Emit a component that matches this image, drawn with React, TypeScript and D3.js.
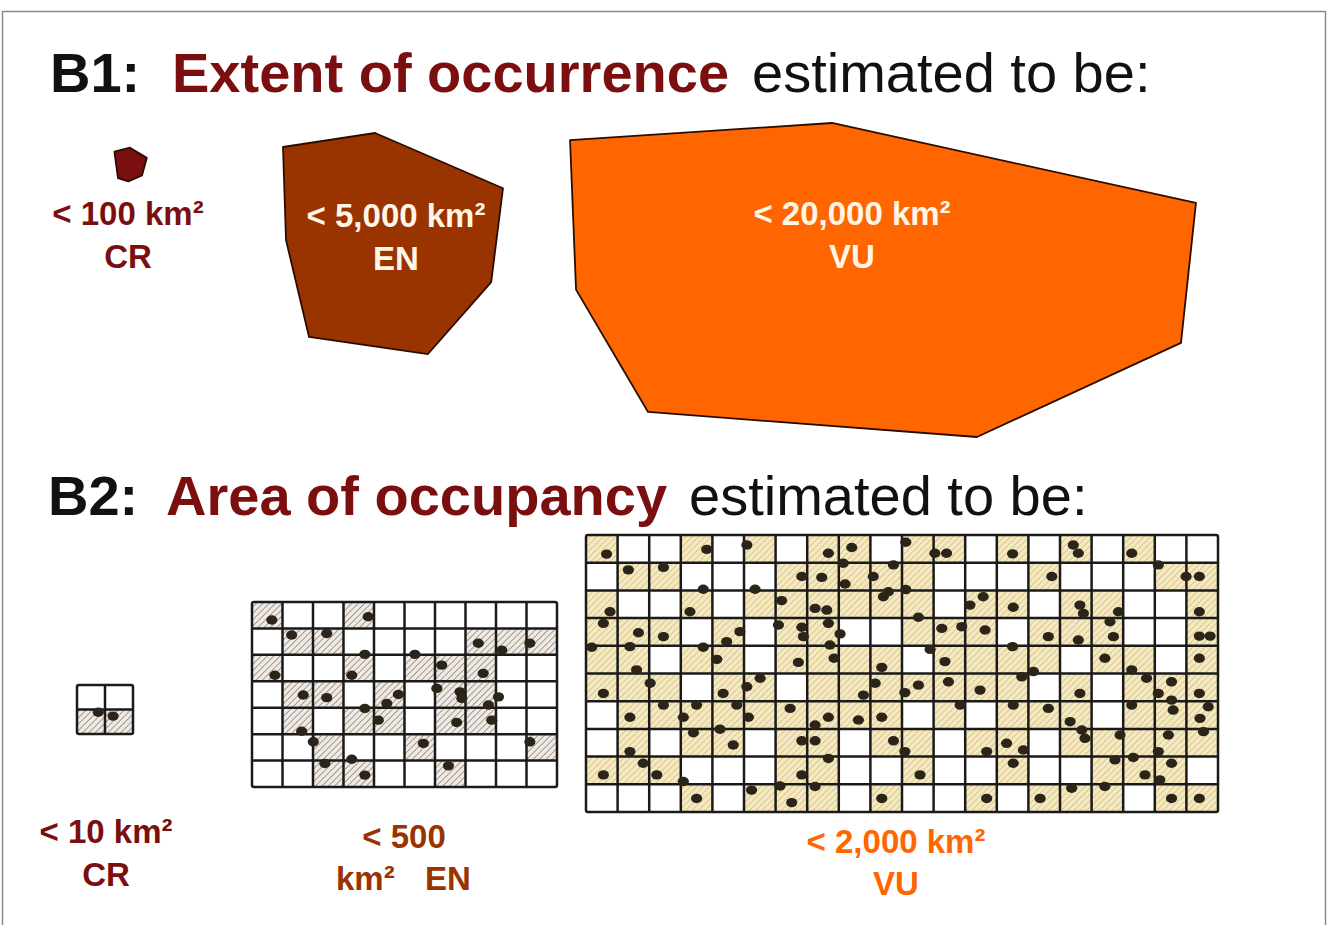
import * as d3 from "d3";

// red list categories and their thresholds
const categories = ["CR", "EN", "VU"];
const eooLabels = ["< 100 km²", "< 5,000 km²", "< 20,000 km²"];
const aooLabels = ["< 10 km²", "< 500", "< 2,000 km²"];

// extent of occurrence outlines, in map units (x 0-100, y 0-30)
const crShape: [number, number][] = [[6.2, 2.97], [7.5, 2.6], [8.9, 3.55], [8.5, 5.2], [7.36, 5.75], [6.5, 5.45]];
const enShape: [number, number][] = [[20.25, 2.53], [27.92, 1.22], [38.58, 6.4], [37.6, 15.2], [32.33, 21.94], [22.42, 20.34], [20.5, 11.25]];
const vuShape: [number, number][] = [[44.17, 1.88], [66.0, 0.28], [96.33, 7.78], [95.08, 20.9], [78.08, 29.72], [50.67, 27.37], [44.67, 15.9]];

// occupied cells (1 = occupied)
const crCells = ["00", "11"];
const enCells = [
  "1001000000",
  "0110000111",
  "1001011100",
  "0110101100",
  "0101101100",
  "0010010001",
  "0011001000",
];
const vuCells = [
  "10010101101101010100",
  "01100011111000100011",
  "10010111111011011001",
  "11101011001110111001",
  "11011011110111101101",
  "11101101111111010111",
  "01111111110101110111",
  "01011011011011011111",
  "11100011001001001110",
  "00010111010010111011",
];

// records, in grid units (column, row)
const crDots: [number, number][] = [[0.76, 1.11], [1.29, 1.27]];
const enDots: [number, number][] = [
  [0.65, 0.68], [3.81, 0.56], [1.3, 1.25], [2.45, 1.19], [7.42, 1.56], [8.19, 1.82], [9.11, 1.56],
  [0.75, 2.77], [3.7, 1.98], [3.27, 2.77], [5.34, 1.98], [6.22, 2.39], [7.58, 2.7],
  [1.68, 3.52], [2.45, 3.62], [4.8, 3.5], [4.42, 3.84], [6.06, 3.27], [6.82, 3.4], [6.88, 3.65], [8.08, 3.59], [7.75, 3.9],
  [1.63, 4.89], [3.7, 4.03], [4.14, 4.47], [6.71, 4.56], [7.86, 4.47],
  [2.01, 5.29], [5.62, 5.35], [9.11, 5.29], [2.39, 6.11], [3.27, 5.95], [3.7, 6.55], [6.44, 6.2],
];
const vuDots: [number, number][] = [
  [0.65, 0.69], [3.82, 0.52], [5.09, 0.36], [7.67, 0.66], [8.41, 0.45], [10.12, 0.26], [11.04, 0.66], [11.41, 0.66],
  [13.5, 0.68], [15.42, 0.36], [15.58, 0.66], [17.27, 0.66],
  [1.34, 1.26], [2.45, 1.17], [3.71, 1.96], [5.35, 1.96], [6.83, 1.5], [7.46, 1.53], [8.14, 1.02], [8.2, 1.77],
  [9.09, 1.5], [9.73, 1.08], [10.12, 1.97], [14.74, 1.5], [18.11, 1.08], [18.99, 1.5], [19.41, 1.5],
  [0.76, 2.77], [3.29, 2.77], [6.19, 2.37], [7.25, 2.65], [7.62, 2.71], [9.41, 2.23], [9.57, 2.05], [10.52, 2.97],
  [12.15, 2.53], [12.57, 2.23], [13.52, 2.61], [15.63, 2.53], [15.74, 2.83], [16.85, 2.77], [19.41, 2.77],
  [0.55, 3.19], [1.66, 3.53], [2.45, 3.67], [4.45, 3.85], [4.87, 3.49], [6.09, 3.25], [6.83, 3.33], [6.88, 3.67],
  [7.67, 3.19], [8.04, 3.57], [11.26, 3.37], [11.89, 3.31], [12.63, 3.43], [14.63, 3.67], [15.58, 3.79],
  [16.58, 3.13], [16.69, 3.67], [19.41, 3.65], [19.75, 3.65],
  [0.18, 4.05], [1.39, 4.03], [1.6, 4.87], [3.71, 4.05], [4.14, 4.49], [6.72, 4.6], [7.72, 3.97], [7.85, 4.45],
  [9.36, 4.78], [10.89, 4.13], [11.36, 4.57], [13.5, 4.03], [14.16, 4.93], [16.42, 4.45], [17.27, 4.87], [19.41, 4.45],
  [0.55, 5.72], [2.03, 5.35], [4.34, 5.72], [5.09, 5.48], [5.51, 5.17], [8.78, 5.78], [9.15, 5.35], [10.09, 5.69],
  [10.52, 5.42], [11.47, 5.3], [12.47, 5.6], [13.79, 5.12], [15.63, 5.72], [17.74, 5.17], [18.53, 5.3], [18.11, 5.72], [19.41, 5.72],
  [1.39, 6.58], [2.45, 6.14], [3.08, 6.58], [3.5, 6.14], [4.77, 6.14], [5.14, 6.58], [6.46, 6.26], [7.25, 6.86],
  [7.67, 6.58], [8.62, 6.68], [9.36, 6.58], [11.84, 6.14], [13.52, 6.14], [14.63, 6.26], [15.32, 6.74], [17.27, 6.14],
  [18.53, 5.96], [18.58, 6.32], [19.69, 6.2], [19.43, 6.62],
  [3.4, 7.14], [4.24, 7.01], [4.66, 7.58], [6.83, 7.43], [7.25, 7.43], [9.73, 7.43], [10.09, 7.82], [1.39, 7.82],
  [15.69, 7.04], [15.79, 7.34], [16.9, 7.22], [18.43, 7.22], [19.54, 7.1], [12.68, 7.82], [13.31, 7.52], [13.84, 7.76], [18.11, 7.82],
  [7.67, 8.07], [1.81, 8.24], [0.55, 8.66], [2.24, 8.66], [3.08, 8.9], [6.83, 8.66], [13.52, 8.24], [16.74, 8.12],
  [17.32, 8.03], [18.53, 8.24], [10.57, 8.66], [17.69, 8.66], [18.16, 8.84],
  [7.25, 9.08], [6.14, 9.06], [5.24, 9.21], [3.5, 9.51], [6.51, 9.66], [9.36, 9.51], [16.42, 9.08], [15.37, 9.14],
  [12.68, 9.51], [14.37, 9.51], [18.53, 9.51], [19.41, 9.51],
];

const font = "'Liberation Sans', Arial, sans-serif";
const darkRed = "#7b0e0e";
const brown = "#993300";
const orange = "#ff6600";
const cream = "#fff6e6";

type GridProps = {
  cells: string[];
  dots: [number, number][];
  box: [number, number, number, number];
  pattern: string;
};

function Grid({ cells, dots, box, pattern }: GridProps) {
  const rows = cells.length;
  const cols = cells[0].length;
  const x = d3.scaleLinear().domain([0, cols]).range([box[0], box[1]]);
  const y = d3.scaleLinear().domain([0, rows]).range([box[2], box[3]]);
  return (
    <g>
      <rect x={x(0)} y={y(0)} width={x(cols) - x(0)} height={y(rows) - y(0)} fill="#fff" />
      {cells.flatMap((r, j) =>
        r.split("").map((c, i) =>
          c === "1" ? (
            <rect key={`c${i}-${j}`} x={x(i)} y={y(j)} width={x(i + 1) - x(i)} height={y(j + 1) - y(j)} fill={`url(#${pattern})`} />
          ) : null
        )
      )}
      {d3.range(1, cols).map((i) => (
        <line key={`v${i}`} x1={x(i)} x2={x(i)} y1={y(0)} y2={y(rows)} stroke="#1a1a1a" strokeWidth={2.5} />
      ))}
      {d3.range(1, rows).map((j) => (
        <line key={`h${j}`} x1={x(0)} x2={x(cols)} y1={y(j)} y2={y(j)} stroke="#1a1a1a" strokeWidth={2.5} />
      ))}
      <rect x={x(0)} y={y(0)} width={x(cols) - x(0)} height={y(rows) - y(0)} rx={2} fill="none" stroke="#1a1a1a" strokeWidth={2.5} />
      {dots.map(([gx, gy], k) => (
        <ellipse key={`d${k}`} cx={x(gx)} cy={y(gy)} rx={5.6} ry={4.7} fill="#2a2419" />
      ))}
    </g>
  );
}

export default function App() {
  const W = 1328;
  const H = 925;
  const mx = d3.scaleLinear().domain([0, 100]).range([40, 1240]);
  const my = d3.scaleLinear().domain([0, 30]).range([120, 440]);
  const outline = d3
    .line<[number, number]>()
    .x((d) => mx(d[0]))
    .y((d) => my(d[1]))
    .curve(d3.curveLinearClosed);

  const shapes = [crShape, enShape, vuShape];
  const fills = [darkRed, brown, orange];
  const eooPos = [
    { x: 128, y: 225, color: darkRed },
    { x: 396, y: 227, color: cream },
    { x: 852, y: 225, color: cream },
  ];

  return (
    <svg width={W} height={H} style={{ position: "absolute", left: 0, top: 0 }} fontFamily={font}>
      <defs>
        <pattern id="hatchEN" patternUnits="userSpaceOnUse" width={4.5} height={4.5} patternTransform="rotate(45)">
          <rect width={4.5} height={4.5} fill="#eeeae6" />
          <line x1={0} y1={0} x2={0} y2={4.5} stroke="#9c8a7c" strokeWidth={1.7} />
        </pattern>
        <pattern id="hatchVU" patternUnits="userSpaceOnUse" width={4.5} height={4.5} patternTransform="rotate(45)">
          <rect width={4.5} height={4.5} fill="#f4e9c2" />
          <line x1={0} y1={0} x2={0} y2={4.5} stroke="#d8c382" strokeWidth={1.7} />
        </pattern>
      </defs>
      <rect x={0} y={0} width={W} height={H} fill="#fff" />
      <rect x={2.5} y={11.5} width={1323} height={940} fill="#fff" stroke="#8c8c8c" strokeWidth={1.5} />

      {/* B1 heading */}
      <text y={92} fontSize={56} fontWeight="bold">
        <tspan x={50} fill="#111">B1:</tspan>
        <tspan x={172} fill={darkRed}>Extent of occurrence</tspan>
        <tspan x={752} fill="#111" fontWeight="normal">estimated to be:</tspan>
      </text>

      {shapes.map((s, i) => (
        <path key={categories[i]} d={outline(s) ?? ""} fill={fills[i]} stroke="#2a0d00" strokeWidth={1.8} strokeLinejoin="round" />
      ))}
      {eooPos.map((p, i) => (
        <g key={`eoo${i}`} fill={p.color} fontSize={33} fontWeight="bold" textAnchor="middle">
          <text x={p.x} y={p.y}>{eooLabels[i]}</text>
          <text x={p.x} y={p.y + 43}>{categories[i]}</text>
        </g>
      ))}

      {/* B2 heading */}
      <text y={515} fontSize={56} fontWeight="bold">
        <tspan x={48} fill="#111">B2:</tspan>
        <tspan x={166} fill={darkRed}>Area of occupancy</tspan>
        <tspan x={689} fill="#111" fontWeight="normal">estimated to be:</tspan>
      </text>

      <Grid cells={crCells} dots={crDots} box={[77, 133, 685, 734]} pattern="hatchEN" />
      <Grid cells={enCells} dots={enDots} box={[252, 557, 602, 787]} pattern="hatchEN" />
      <Grid cells={vuCells} dots={vuDots} box={[586, 1218, 535, 812]} pattern="hatchVU" />

      <g fontSize={33} fontWeight="bold">
        <text x={106} y={843} textAnchor="middle" fill={darkRed}>{aooLabels[0]}</text>
        <text x={106} y={886} textAnchor="middle" fill={darkRed}>{categories[0]}</text>
        <text x={404} y={848} textAnchor="middle" fill={brown}>{aooLabels[1]}</text>
        <text x={336} y={890} fill={brown}>km²</text>
        <text x={425} y={890} fill={brown}>{categories[1]}</text>
        <text x={896} y={853} textAnchor="middle" fill={orange}>{aooLabels[2]}</text>
        <text x={896} y={895} textAnchor="middle" fill={orange}>{categories[2]}</text>
      </g>
    </svg>
  );
}
